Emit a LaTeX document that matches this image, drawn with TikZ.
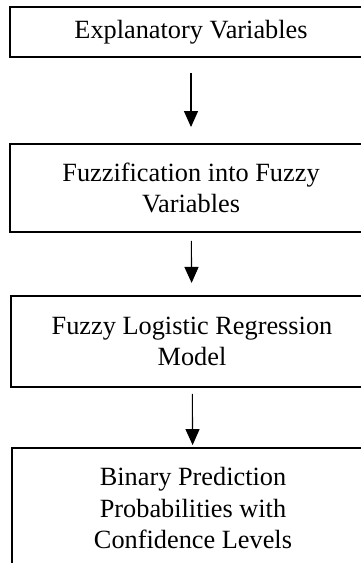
\documentclass[tikz,border=0pt]{standalone}
\usepackage{fontspec}
\setmainfont{Liberation Serif}
\usetikzlibrary{arrows.meta}
\tikzset{>={Triangle[width=6.4pt,length=7.3pt]}}
\tikzset{flowbox/.style={draw, line width=0.9pt, minimum width=165pt, inner sep=0pt, align=center, font=\fontsize{12}{14.2}\selectfont}}

\begin{document}
\begin{tikzpicture}[x=0.456pt, y=-0.456pt]

% Frame
\clip (0,0) rectangle (361,563);

% Boxes
\node[flowbox, minimum height=22.8pt] (expl) at (191,32) {Explanatory Variables};
\node[flowbox, minimum height=40.1pt] (fuzz) at (191,188) {Fuzzification into Fuzzy\\Variables};
\node[flowbox, minimum height=41.5pt] (flrm) at (192,341.5) {Fuzzy Logistic Regression\\Model};
\node[flowbox, minimum height=54.7pt] (pred) at (193,508) {Binary Prediction\\Probabilities with\\Confidence Levels};

% Arrows
\draw[->, line width=0.5pt, shorten <=6.8pt, shorten >=7.3pt] (expl) -- (fuzz);
\draw[->, line width=0.5pt, shorten <=3.6pt, shorten >=5.5pt] (fuzz) -- (flrm);
\draw[->, line width=0.5pt, shorten <=2.7pt, shorten >=0.9pt] (flrm) -- (pred);

\end{tikzpicture}
\end{document}
